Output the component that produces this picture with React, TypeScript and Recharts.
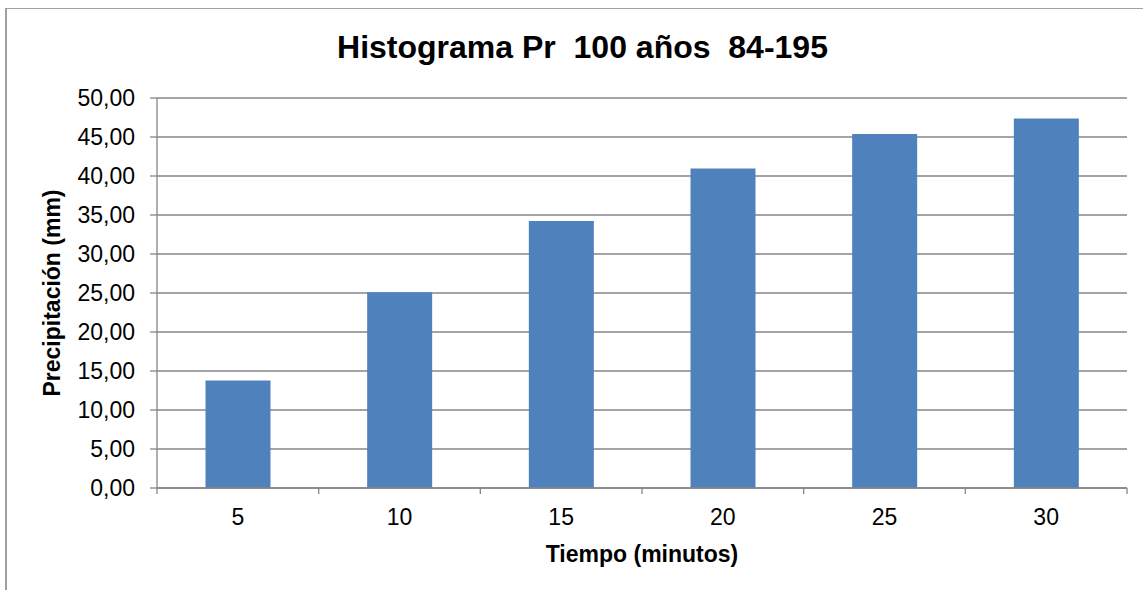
import React from 'react';
import { BarChart, Bar, XAxis, YAxis, CartesianGrid, Label } from 'recharts';

const categories = ['5', '10', '15', '20', '25', '30'];
const precipitation = [13.78, 25.1, 34.22, 40.95, 45.4, 47.37];
const yTicks = [0, 5, 10, 15, 20, 25, 30, 35, 40, 45, 50];

const title = 'Histograma Pr\u00A0\u00A0100 años\u00A0\u00A084-195';
const xTitle = 'Tiempo (minutos)';
const yTitle = 'Precipitación (mm)';

const data = categories.map((c, i) => ({ name: c, value: precipitation[i] }));

const FONT = '"Liberation Sans", Arial, Helvetica, sans-serif';
const GRID = '#868686';
const X_TICK_SIZE = 6;
const X_TICK_MARGIN = 15;

const fmt = (v: number) => v.toFixed(2).replace('.', ',');

const XTick = (props: any) => {
  const { x, y, payload, index, visibleTicksCount } = props;
  const half = payload && typeof payload.offset === 'number' ? payload.offset : 0;
  const axisY = y - X_TICK_SIZE - X_TICK_MARGIN;
  const isLast = index === (visibleTicksCount ?? categories.length) - 1;
  return (
    <g>
      <line x1={x - half} x2={x - half} y1={axisY} y2={axisY + X_TICK_SIZE} stroke={GRID} strokeWidth={1.3} />
      {isLast && (
        <line x1={x + half} x2={x + half} y1={axisY} y2={axisY + X_TICK_SIZE} stroke={GRID} strokeWidth={1.3} />
      )}
      <text x={x} y={y} dy="0.71em" textAnchor="middle" fill="#000" fontSize={23} fontFamily={FONT}>
        {payload.value}
      </text>
    </g>
  );
};

export default function App() {
  return (
    <div style={{ position: 'absolute', left: 0, top: 0, width: 1143, height: 590, overflow: 'hidden', background: '#fff' }}>
      <div
        style={{
          position: 'absolute',
          left: 5,
          top: 8,
          width: 1300,
          height: 800,
          borderLeft: '2px solid #a0a0a0',
          borderTop: '1px solid #a0a0a0',
        }}
      />
      <div
        style={{
          position: 'absolute',
          left: 0,
          top: 31,
          width: 1165,
          textAlign: 'center',
          fontFamily: FONT,
          fontWeight: 'bold',
          fontSize: 32,
          lineHeight: '32px',
          color: '#000',
          whiteSpace: 'pre',
        }}
      >
        {title}
      </div>
      <div style={{ position: 'absolute', left: 0, top: 0 }}>
        <BarChart
          width={1143}
          height={590}
          data={data}
          margin={{ top: 98, right: 16, bottom: 0, left: 0 }}
          barCategoryGap="30%"
        >
          <CartesianGrid vertical={false} stroke={GRID} strokeWidth={1.3} />
          <XAxis
            dataKey="name"
            height={102}
            axisLine={{ stroke: GRID, strokeWidth: 1.3 }}
            tickLine={false}
            tickSize={X_TICK_SIZE}
            tickMargin={X_TICK_MARGIN}
            tick={<XTick />}
            interval={0}
          >
            <Label
              value={xTitle}
              position="insideBottom"
              offset={28}
              style={{ fontFamily: FONT, fontWeight: 'bold', fontSize: 23, fill: '#000' }}
            />
          </XAxis>
          <YAxis
            width={157}
            domain={[0, 50]}
            ticks={yTicks}
            interval={0}
            tickFormatter={fmt}
            axisLine={{ stroke: GRID, strokeWidth: 1.3 }}
            tickLine={{ stroke: GRID, strokeWidth: 1.3 }}
            tickSize={7}
            tickMargin={15}
            tick={{ fill: '#000', fontSize: 23, fontFamily: FONT }}
          >
            <Label
              value={yTitle}
              angle={-90}
              position="insideLeft"
              offset={52}
              style={{ textAnchor: 'middle', fontFamily: FONT, fontWeight: 'bold', fontSize: 23, fill: '#000' }}
            />
          </YAxis>
          <Bar dataKey="value" fill="#4F81BD" isAnimationActive={false} />
        </BarChart>
      </div>
    </div>
  );
}
